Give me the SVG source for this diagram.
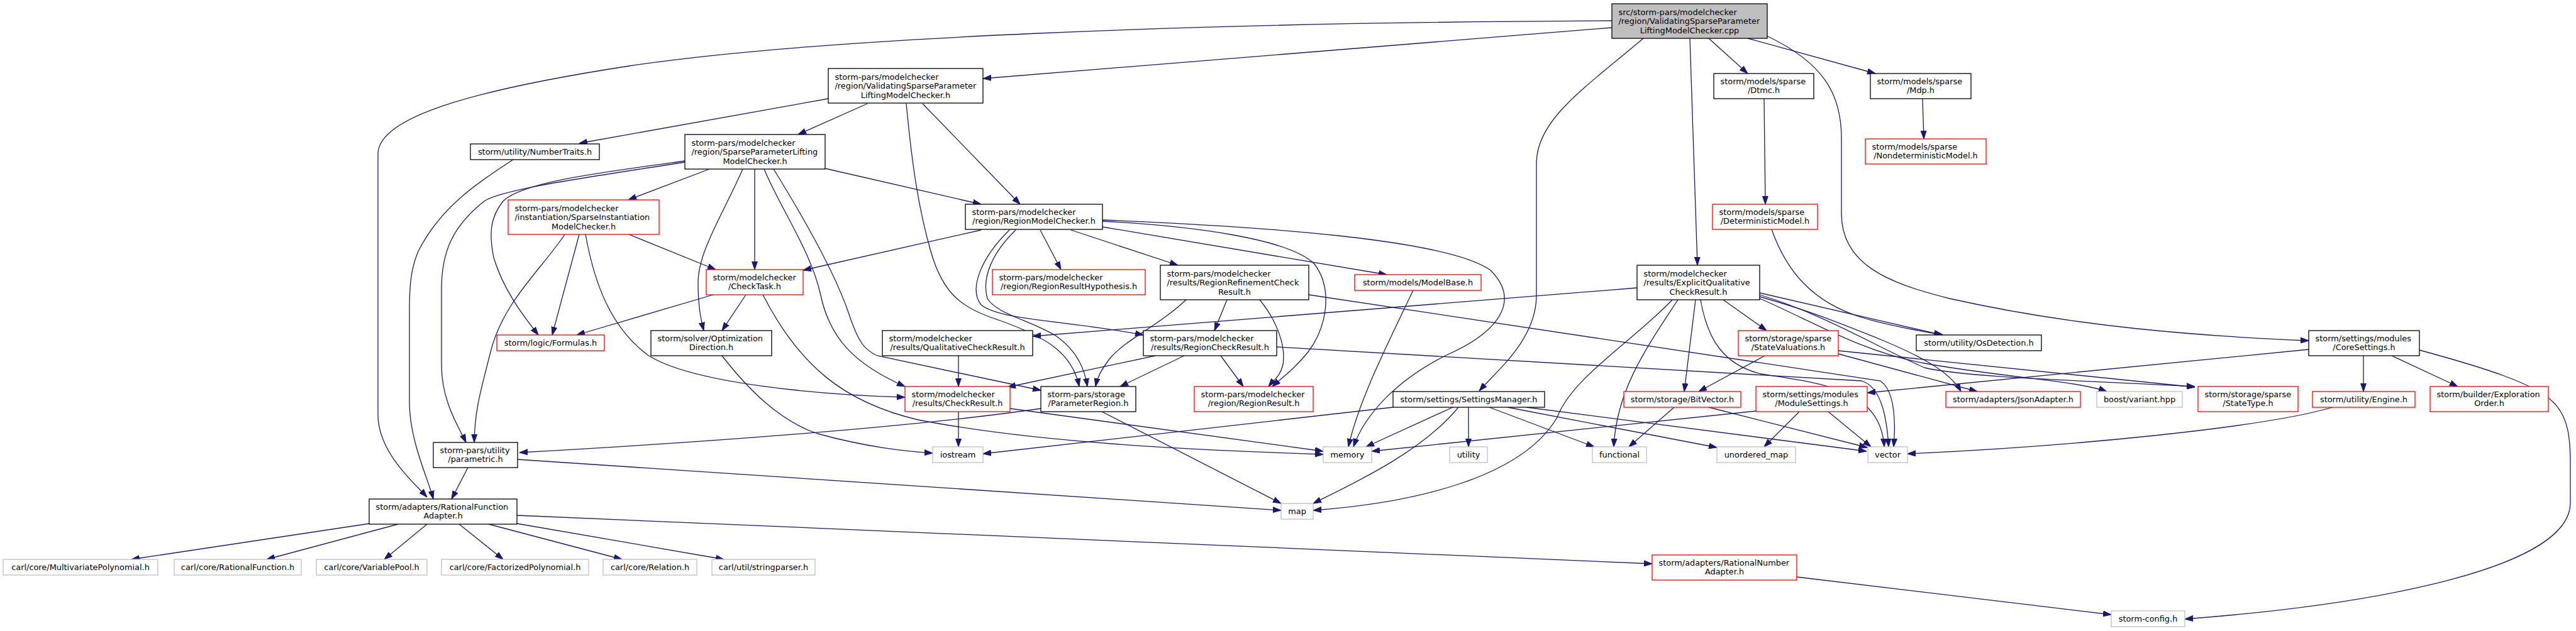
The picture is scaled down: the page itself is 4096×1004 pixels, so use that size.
<svg xmlns="http://www.w3.org/2000/svg" width="4096" height="1004" viewBox="0 0 4096 1004">
<style>
text{font-family:"DejaVu Sans","Liberation Sans",sans-serif;font-size:12.9px;fill:#000}
.c{text-anchor:middle}
rect{fill:#fff;stroke:#000;stroke-width:1.3}
rect.r{stroke:#ff0000}
rect.g{stroke:#bfbfbf}
rect.top{fill:#bfbfbf}
#edges path{fill:none;stroke:#191970;stroke-width:1.3;marker-end:url(#ah)}
</style>
<defs><marker id="ah" markerUnits="userSpaceOnUse" markerWidth="13" markerHeight="10" viewBox="0 0 13 10" refX="13" refY="5" orient="auto"><path d="M0,0.5 L13,5 L0,9.5 z" fill="#191970" stroke="#191970"/></marker></defs>
<rect x="0" y="0" width="4096" height="1004" style="fill:#fff;stroke:none"/>
<g id="edges">
<path d="M2563,44 L1563,125"/>
<path d="M2563,33 C1900,36 1300,60 1000,105 C760,142 601,185 601,245 L601,660 C601,720 660,770 679,791"/>
<path d="M2613,61 C2520,140 2443,190 2443,260 L2443,470 C2443,540 2380,590 2352,622"/>
<path d="M2687,61 C2692,200 2697,330 2699,422"/>
<path d="M2717,61 L2779,117"/>
<path d="M2779,61 L2982,117"/>
<path d="M2809,57 C2900,100 2928,150 2928,220 L2928,340 C2928,420 3000,450 3100,475 C3300,520 3500,535 3671,542"/>
<path d="M2805,157 L2807,325"/>
<path d="M3057,157 L3059,221"/>
<path d="M2817,365 C2840,430 2880,480 2960,505 C3010,520 3060,528 3090,533"/>
<path d="M2798,466 L3088,533"/>
<path d="M1317,157 L921,228"/>
<path d="M1379,165 L1269,214"/>
<path d="M1441,165 C1450,260 1460,330 1480,400 C1500,470 1530,490 1590,510 C1660,535 1705,560 1716,615"/>
<path d="M1467,165 L1622,325"/>
<path d="M1128,269 L999,318"/>
<path d="M1200,269 L1200,429"/>
<path d="M1181,269 C1150,340 1110,400 1110,450 C1110,490 1115,510 1119,526"/>
<path d="M1215,269 C1240,330 1290,400 1305,470 C1320,540 1360,580 1439,615"/>
<path d="M1230,269 C1280,350 1330,440 1350,500 C1365,545 1375,557 1395,566 L1655,621"/>
<path d="M1312,268 L1560,325"/>
<path d="M1089,256 C950,275 830,290 800,320 C780,345 777,370 785,410 C800,460 830,500 856,533"/>
<path d="M1089,258 C950,280 800,300 770,320 C720,360 702,400 702,460 L702,580 C702,640 730,680 741,704"/>
<path d="M816,254 C760,290 700,330 665,400 C652,430 651,460 651,500 L651,640 C651,700 680,760 689,794"/>
<path d="M921,373 L878,533"/>
<path d="M898,373 C860,430 800,480 780,560 C765,620 755,650 754,704"/>
<path d="M931,373 C945,450 970,520 1030,565 C1100,610 1300,628 1439,632"/>
<path d="M1000,373 L1138,429"/>
<path d="M1560,366 L1277,430"/>
<path d="M1654,366 L1687,429"/>
<path d="M1703,366 L1873,422"/>
<path d="M1615,366 C1580,400 1560,440 1570,475 C1585,500 1640,510 1680,535 C1715,560 1725,590 1729,615"/>
<path d="M1605,366 C1560,410 1540,460 1560,485 C1590,510 1700,510 1818,533"/>
<path d="M1753,350 C2000,360 2300,380 2370,430 C2420,480 2380,530 2300,565 C2220,605 2170,660 2152,711"/>
<path d="M1753,361 L2205,437"/>
<path d="M1753,352 C1900,360 2050,380 2090,420 C2120,460 2110,520 2080,560 C2060,585 2040,600 2023,615"/>
<path d="M1886,477 C1840,520 1790,540 1765,570 C1750,590 1745,600 1742,615"/>
<path d="M1951,477 L1931,526"/>
<path d="M2003,477 C2030,510 2045,550 2040,580 C2035,600 2025,605 2017,615"/>
<path d="M2081,469 L2990,606 C3010,620 3015,660 3011,711"/>
<path d="M1837,566 L1602,616"/>
<path d="M1883,566 L1781,615"/>
<path d="M1941,566 L1977,615"/>
<path d="M2030,552 L2960,606 C2990,615 3000,660 3003,711"/>
<path d="M2603,458 L1642,535"/>
<path d="M2659,477 C2600,540 2500,600 2476,664 C2420,760 2250,800 2088,812"/>
<path d="M2668,477 C2620,550 2570,620 2566,711"/>
<path d="M2696,477 L2678,623"/>
<path d="M2704,477 C2715,540 2740,580 2800,595 C2900,610 2990,620 2996,711"/>
<path d="M2740,477 L2809,526"/>
<path d="M2798,472 C2880,495 2940,520 2990,540 C3050,565 3100,590 3118,623"/>
<path d="M2798,475 C2880,510 2960,560 3060,578 C3180,600 3300,605 3350,623"/>
<path d="M2798,469 C2900,500 2980,550 3060,585 C3120,600 3300,605 3490,615"/>
<path d="M2806,566 L2701,623"/>
<path d="M2923,563 L3144,623"/>
<path d="M2923,558 L3490,616"/>
<path d="M2247,462 C2200,560 2160,640 2144,711"/>
<path d="M1752,655 L2037,801"/>
<path d="M1655,650 C1450,680 1100,705 826,720"/>
<path d="M1524,655 L1524,711"/>
<path d="M1606,650 L2104,718"/>
<path d="M1213,469 C1270,580 1340,640 1460,668 C1650,705 1900,716 2104,723"/>
<path d="M1148,566 C1190,620 1240,670 1300,690 C1380,712 1440,718 1483,721"/>
<path d="M2215,648 L1563,722"/>
<path d="M2310,648 L2172,711"/>
<path d="M2319,648 C2260,720 2150,770 2088,801"/>
<path d="M2335,648 L2335,711"/>
<path d="M2368,648 L2535,711"/>
<path d="M2397,648 L2730,712"/>
<path d="M2427,648 L2968,718"/>
<path d="M2662,648 L2590,711"/>
<path d="M2717,648 L2969,712"/>
<path d="M2792,654 L2181,718"/>
<path d="M2861,655 L2805,711"/>
<path d="M2907,655 L2975,711"/>
<path d="M3671,556 L2969,625"/>
<path d="M3758,566 L3758,623"/>
<path d="M3803,566 L3908,615"/>
<path d="M3847,557 C3950,585 4030,610 4060,640 C4085,665 4087,700 4087,740 L4087,800 C4087,900 3800,960 3474,985"/>
<path d="M3709,648 C3600,680 3300,710 3033,722"/>
<path d="M2857,918 L3357,978"/>
<path d="M822,820 L2627,897"/>
<path d="M588,833 L209,890"/>
<path d="M633,834 L424,890"/>
<path d="M679,834 L611,890"/>
<path d="M730,834 L800,890"/>
<path d="M777,834 L989,890"/>
<path d="M822,833 L1151,890"/>
<path d="M744,744 L718,794"/>
<path d="M823,731 L2037,812"/>
<path d="M1134,469 L917,533"/>
<path d="M1186,469 L1148,526"/>
<path d="M1524,566 L1524,615"/>
</g>
<g id="n_top"><rect class="top" x="2563" y="6" width="247" height="55"/><text x="2573.5" y="23.5">src/storm-pars/modelchecker</text><text x="2573.5" y="38">/region/ValidatingSparseParameter</text><text class="c" x="2686.5" y="52.5">LiftingModelChecker.cpp</text></g>
<g id="n_vsplmc"><rect x="1317" y="109" width="246" height="55"/><text x="1327.5" y="126.5">storm-pars/modelchecker</text><text x="1327.5" y="141">/region/ValidatingSparseParameter</text><text class="c" x="1440" y="155.5">LiftingModelChecker.h</text></g>
<g id="n_dtmc"><rect x="2725" y="117" width="159" height="40"/><text x="2735.5" y="133.5">storm/models/sparse</text><text class="c" x="2804.5" y="148">/Dtmc.h</text></g>
<g id="n_mdp"><rect x="2974" y="117" width="160" height="40"/><text x="2984.5" y="133.5">storm/models/sparse</text><text class="c" x="3054" y="148">/Mdp.h</text></g>
<g id="n_numtraits"><rect x="748" y="229" width="205" height="25"/><text class="c" x="850.5" y="245.5">storm/utility/NumberTraits.h</text></g>
<g id="n_splmc"><rect x="1089" y="214" width="223" height="55"/><text x="1099.5" y="231.5">storm-pars/modelchecker</text><text x="1099.5" y="246">/region/SparseParameterLifting</text><text class="c" x="1200.5" y="260.5">ModelChecker.h</text></g>
<g id="n_nondet"><rect class="r" x="2966" y="221" width="192" height="40"/><text x="2976.5" y="237.5">storm/models/sparse</text><text class="c" x="3062" y="252">/NondeterministicModel.h</text></g>
<g id="n_sparseinst"><rect class="r" x="808" y="318" width="240" height="55"/><text x="818.5" y="335.5">storm-pars/modelchecker</text><text x="818.5" y="350">/instantiation/SparseInstantiation</text><text class="c" x="928" y="364.5">ModelChecker.h</text></g>
<g id="n_rmc"><rect x="1535" y="325" width="218" height="40"/><text x="1545.5" y="341.5">storm-pars/modelchecker</text><text class="c" x="1644" y="356">/region/RegionModelChecker.h</text></g>
<g id="n_detmodel"><rect class="r" x="2723" y="325" width="167" height="40"/><text x="2733.5" y="341.5">storm/models/sparse</text><text class="c" x="2806.5" y="356">/DeterministicModel.h</text></g>
<g id="n_checktask"><rect class="r" x="1123" y="429" width="154" height="40"/><text x="1133.5" y="445.5">storm/modelchecker</text><text class="c" x="1200" y="460">/CheckTask.h</text></g>
<g id="n_rrh"><rect class="r" x="1578" y="429" width="243" height="40"/><text x="1588.5" y="445.5">storm-pars/modelchecker</text><text class="c" x="1699.5" y="460">/region/RegionResultHypothesis.h</text></g>
<g id="n_rrcr"><rect x="1845" y="422" width="236" height="55"/><text x="1855.5" y="439.5">storm-pars/modelchecker</text><text x="1855.5" y="454">/results/RegionRefinementCheck</text><text class="c" x="1963" y="468.5">Result.h</text></g>
<g id="n_modelbase"><rect class="r" x="2154" y="437" width="201" height="25"/><text class="c" x="2254.5" y="453.5">storm/models/ModelBase.h</text></g>
<g id="n_eqcr"><rect x="2603" y="422" width="195" height="55"/><text x="2613.5" y="439.5">storm/modelchecker</text><text x="2613.5" y="454">/results/ExplicitQualitative</text><text class="c" x="2700.5" y="468.5">CheckResult.h</text></g>
<g id="n_formulas"><rect class="r" x="790" y="533" width="171" height="25"/><text class="c" x="875.5" y="549.5">storm/logic/Formulas.h</text></g>
<g id="n_optdir"><rect x="1035" y="526" width="192" height="40"/><text x="1045.5" y="542.5">storm/solver/Optimization</text><text class="c" x="1131" y="557">Direction.h</text></g>
<g id="n_qcr"><rect x="1403" y="526" width="239" height="40"/><text x="1413.5" y="542.5">storm/modelchecker</text><text class="c" x="1522.5" y="557">/results/QualitativeCheckResult.h</text></g>
<g id="n_rcr"><rect x="1818" y="526" width="212" height="40"/><text x="1828.5" y="542.5">storm-pars/modelchecker</text><text class="c" x="1924" y="557">/results/RegionCheckResult.h</text></g>
<g id="n_sv"><rect class="r" x="2764" y="526" width="159" height="40"/><text x="2774.5" y="542.5">storm/storage/sparse</text><text class="c" x="2843.5" y="557">/StateValuations.h</text></g>
<g id="n_osdet"><rect x="3047" y="533" width="199" height="25"/><text class="c" x="3146.5" y="549.5">storm/utility/OsDetection.h</text></g>
<g id="n_coresettings"><rect x="3671" y="526" width="176" height="40"/><text x="3681.5" y="542.5">storm/settings/modules</text><text class="c" x="3759" y="557">/CoreSettings.h</text></g>
<g id="n_checkresult"><rect class="r" x="1439" y="615" width="167" height="40"/><text x="1449.5" y="631.5">storm/modelchecker</text><text class="c" x="1522.5" y="646">/results/CheckResult.h</text></g>
<g id="n_paramregion"><rect x="1655" y="615" width="151" height="40"/><text x="1665.5" y="631.5">storm-pars/storage</text><text class="c" x="1730.5" y="646">/ParameterRegion.h</text></g>
<g id="n_regionresult"><rect class="r" x="1899" y="615" width="189" height="40"/><text x="1909.5" y="631.5">storm-pars/modelchecker</text><text class="c" x="1993.5" y="646">/region/RegionResult.h</text></g>
<g id="n_settingsmgr"><rect x="2215" y="623" width="241" height="25"/><text class="c" x="2335.5" y="639.5">storm/settings/SettingsManager.h</text></g>
<g id="n_bitvector"><rect class="r" x="2582" y="623" width="186" height="25"/><text class="c" x="2675" y="639.5">storm/storage/BitVector.h</text></g>
<g id="n_modulesettings"><rect class="r" x="2792" y="615" width="177" height="40"/><text x="2802.5" y="631.5">storm/settings/modules</text><text class="c" x="2880.5" y="646">/ModuleSettings.h</text></g>
<g id="n_jsonadapter"><rect class="r" x="3094" y="623" width="214" height="25"/><text class="c" x="3201" y="639.5">storm/adapters/JsonAdapter.h</text></g>
<g id="n_boost"><rect class="g" x="3334" y="623" width="136" height="25"/><text class="c" x="3402" y="639.5">boost/variant.hpp</text></g>
<g id="n_statetype"><rect class="r" x="3495" y="615" width="159" height="40"/><text x="3505.5" y="631.5">storm/storage/sparse</text><text class="c" x="3574.5" y="646">/StateType.h</text></g>
<g id="n_engine"><rect class="r" x="3677" y="623" width="163" height="25"/><text class="c" x="3758.5" y="639.5">storm/utility/Engine.h</text></g>
<g id="n_explorder"><rect class="r" x="3864" y="615" width="188" height="40"/><text x="3874.5" y="631.5">storm/builder/Exploration</text><text class="c" x="3958" y="646">Order.h</text></g>
<g id="n_parametric"><rect x="689" y="704" width="134" height="40"/><text x="699.5" y="720.5">storm-pars/utility</text><text class="c" x="756" y="735">/parametric.h</text></g>
<g id="n_iostream"><rect class="g" x="1483" y="711" width="80" height="25"/><text class="c" x="1523" y="727.5">iostream</text></g>
<g id="n_memory"><rect class="g" x="2104" y="711" width="77" height="25"/><text class="c" x="2142.5" y="727.5">memory</text></g>
<g id="n_utility"><rect class="g" x="2305" y="711" width="60" height="25"/><text class="c" x="2335" y="727.5">utility</text></g>
<g id="n_functional"><rect class="g" x="2532" y="711" width="86" height="25"/><text class="c" x="2575" y="727.5">functional</text></g>
<g id="n_unordered_map"><rect class="g" x="2730" y="711" width="125" height="25"/><text class="c" x="2792.5" y="727.5">unordered_map</text></g>
<g id="n_vector"><rect class="g" x="2970" y="711" width="63" height="25"/><text class="c" x="3001.5" y="727.5">vector</text></g>
<g id="n_rfa"><rect x="587" y="794" width="235" height="40"/><text x="597.5" y="810.5">storm/adapters/RationalFunction</text><text class="c" x="704.5" y="825">Adapter.h</text></g>
<g id="n_map"><rect class="g" x="2037" y="801" width="51" height="25"/><text class="c" x="2062.5" y="817.5">map</text></g>
<g id="n_carl_mp"><rect class="g" x="5" y="890" width="246" height="25"/><text class="c" x="128" y="906.5">carl/core/MultivariatePolynomial.h</text></g>
<g id="n_carl_rf"><rect class="g" x="277" y="890" width="202" height="25"/><text class="c" x="378" y="906.5">carl/core/RationalFunction.h</text></g>
<g id="n_carl_vp"><rect class="g" x="503" y="890" width="176" height="25"/><text class="c" x="591" y="906.5">carl/core/VariablePool.h</text></g>
<g id="n_carl_fp"><rect class="g" x="702" y="890" width="234" height="25"/><text class="c" x="819" y="906.5">carl/core/FactorizedPolynomial.h</text></g>
<g id="n_carl_rel"><rect class="g" x="959" y="890" width="149" height="25"/><text class="c" x="1033.5" y="906.5">carl/core/Relation.h</text></g>
<g id="n_carl_sp"><rect class="g" x="1132" y="890" width="164" height="25"/><text class="c" x="1214" y="906.5">carl/util/stringparser.h</text></g>
<g id="n_rna"><rect class="r" x="2627" y="883" width="230" height="40"/><text x="2637.5" y="899.5">storm/adapters/RationalNumber</text><text class="c" x="2742" y="914">Adapter.h</text></g>
<g id="n_config"><rect class="g" x="3357" y="972" width="117" height="25"/><text class="c" x="3415.5" y="988.5">storm-config.h</text></g>
</svg>
